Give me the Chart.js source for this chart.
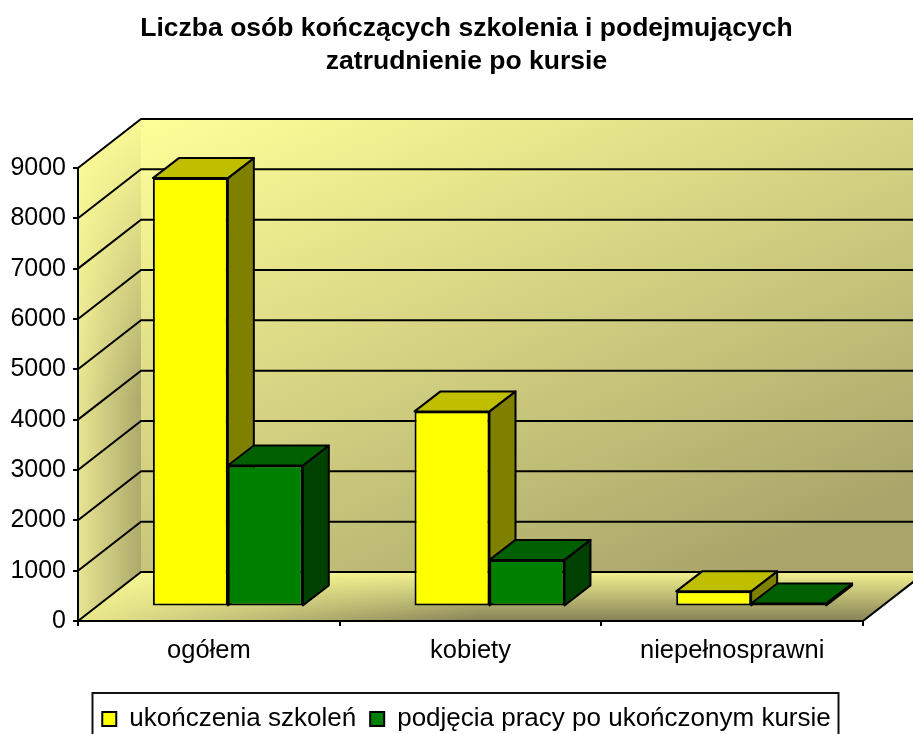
<!DOCTYPE html>
<html>
<head>
<meta charset="utf-8">
<title>Liczba osób</title>
<script src="https://cdn.jsdelivr.net/npm/chart.js@4"></script>
<style>
    html, body { margin: 0; padding: 0; background: #fff; overflow: hidden; }
    canvas { display: block; }
</style>
</head>
<body>
<canvas id="chart" width="913" height="734"></canvas>
<script>
// Values
const categories = ['ogółem', 'kobiety', 'niepełnosprawni'];
const completedTraining = [8490, 3855, 280];
const tookUpWork = [2780, 905, 40];
const titleLines = ['Liczba osób kończących szkolenia i podejmujących', 'zatrudnienie po kursie'];
const seriesNames = ['ukończenia szkoleń', 'podjęcia pracy po ukończonym kursie'];

// 3D look of the old spreadsheet chart
const FONT = '"Liberation Sans", Arial, sans-serif';
const WALL_DX = 63, WALL_DY = 49;     // depth of the walls and floor
const BAR_DX = 26, BAR_DY = 20;       // depth of one bar
const BAR_SHIFT = 19;                 // bars stand a little way in from the front edge
const LINE = 2;
const YELLOW = { top: '#bfbf00', side: '#808000' };
const GREEN = { top: '#006000', side: '#004000' };

function polygon(ctx, points, fill, stroke) {
    ctx.beginPath();
    points.forEach((p, i) => i ? ctx.lineTo(p[0], p[1]) : ctx.moveTo(p[0], p[1]));
    ctx.closePath();
    if (fill) {
        ctx.fillStyle = fill;
        ctx.fill();
    }
    if (stroke) ctx.stroke();
}

const walls3d = {
    id: 'walls3d',
    beforeDraw(chart) {
        const ctx = chart.ctx;
        const area = chart.chartArea;
        const y = chart.scales.y;
        const width = chart.width;
        const l = area.left, r = area.right, b = area.bottom, t = area.top;
        const dx = WALL_DX, dy = WALL_DY;

        ctx.save();
        ctx.strokeStyle = '#000';
        ctx.lineWidth = LINE;

        // back wall
        let grad = ctx.createLinearGradient(l + dx, t - dy, l + dx + 258, t - dy + 603);
        grad.addColorStop(0, '#ffff99');
        grad.addColorStop(1, '#a8a46a');
        ctx.fillStyle = grad;
        ctx.fillRect(l + dx, t - dy, width - l - dx, b - t);

        // left wall: darkens towards the back, paler near the top
        const leftWall = [[l, t], [l + dx, t - dy], [l + dx, b - dy], [l, b]];
        grad = ctx.createLinearGradient(l, 0, l + dx, 0);
        grad.addColorStop(0, '#e8e592');
        grad.addColorStop(1, '#adaa6c');
        polygon(ctx, leftWall, grad);
        grad = ctx.createLinearGradient(0, t - dy + 10, 0, t + 230);
        grad.addColorStop(0, 'rgba(255,255,153,0.9)');
        grad.addColorStop(1, 'rgba(255,255,153,0)');
        polygon(ctx, leftWall, grad);

        // floor: darkens towards the viewer, paler on the left
        const floor = [[l, b], [r, b], [r + dx, b - dy], [l + dx, b - dy]];
        grad = ctx.createLinearGradient(0, b - dy, 0, b);
        grad.addColorStop(0, '#f2f290');
        grad.addColorStop(1, '#878257');
        polygon(ctx, floor, grad);
        grad = ctx.createLinearGradient(l, 0, l + 400, 0);
        grad.addColorStop(0, 'rgba(250,250,150,0.85)');
        grad.addColorStop(1, 'rgba(250,250,150,0)');
        polygon(ctx, floor, grad);

        // grid lines run up the left wall and along the back wall
        y.ticks.forEach(tick => {
            const py = y.getPixelForValue(tick.value);
            ctx.beginPath();
            ctx.moveTo(l, py);
            ctx.lineTo(l + dx, py - dy);
            ctx.lineTo(width, py - dy);
            ctx.stroke();
        });

        // right edge of the floor
        ctx.beginPath();
        ctx.moveTo(r, b);
        ctx.lineTo(r + dx, b - dy);
        ctx.stroke();
        ctx.restore();
    },
    beforeDatasetsDraw(chart) {
        const ctx = chart.ctx;
        const faces = [YELLOW, GREEN];
        ctx.save();
        ctx.translate(BAR_SHIFT, 0);
        ctx.strokeStyle = '#000';
        ctx.lineWidth = LINE;
        ctx.lineJoin = 'round';
        // yellow first so that the green top covers the yellow side
        categories.forEach((_, index) => {
            [0, 1].forEach(ds => {
                const bar = chart.getDatasetMeta(ds).data[index];
                const x0 = bar.x - bar.width / 2, x1 = bar.x + bar.width / 2;
                const top = bar.y, base = bar.base;
                polygon(ctx, [[x1, top], [x1 + BAR_DX, top - BAR_DY], [x1 + BAR_DX, base - BAR_DY], [x1, base]], faces[ds].side, true);
                polygon(ctx, [[x0, top], [x0 + BAR_DX, top - BAR_DY], [x1 + BAR_DX, top - BAR_DY], [x1, top]], faces[ds].top, true);
            });
        });
        ctx.restore();
        // front faces are drawn by the library, moved the same way
        ctx.save();
        ctx.translate(BAR_SHIFT, 0);
    },
    afterDatasetsDraw(chart) {
        chart.ctx.restore();
    },
    afterDraw(chart) {
        // frame of the legend, cut off by the bottom of the picture
        const ctx = chart.ctx;
        ctx.save();
        ctx.strokeStyle = '#111';
        ctx.lineWidth = LINE;
        ctx.strokeRect(92.5, 693, 746, 60);
        ctx.restore();
    }
};

new Chart(document.getElementById('chart'), {
    type: 'bar',
    data: {
        labels: categories,
        datasets: [
            { label: seriesNames[0], data: completedTraining, backgroundColor: '#ffff00', borderColor: '#000', borderWidth: LINE, borderSkipped: false, yAxisID: 'bars', clip: false },
            { label: seriesNames[1], data: tookUpWork, backgroundColor: '#008000', borderColor: '#000', borderWidth: LINE, borderSkipped: false, yAxisID: 'bars', clip: false }
        ]
    },
    plugins: [walls3d],
    options: {
        responsive: false,
        animation: false,
        events: [],
        layout: { padding: { left: 0, right: -20, top: 12, bottom: -8 } },
        datasets: { bar: { barPercentage: 1, categoryPercentage: 0.573 } },
        scales: {
            x: {
                offset: true,
                grid: { offset: true, drawOnChartArea: false, color: '#000', lineWidth: LINE, tickLength: 5 },
                border: { color: '#000', width: 2 },
                ticks: { color: '#000', font: { family: FONT, size: 25.5 }, padding: 10, maxRotation: 0 },
                afterFit(scale) { scale.height = 71; }
            },
            y: {
                min: 0,
                max: 9000,
                grid: { drawOnChartArea: false, color: '#000', lineWidth: LINE, tickLength: 5 },
                border: { color: '#000', width: LINE },
                ticks: { color: '#000', stepSize: 1000, font: { family: FONT, size: 25 }, padding: 7, callback: value => String(value) },
                afterFit(scale) { scale.width = 78; }
            },
            // same height as y, lifted so that a bar's zero sits on the floor and not on the front edge
            bars: {
                position: 'right',
                min: -309,
                max: 8691,
                grid: { display: false },
                border: { display: false },
                ticks: { display: false },
                afterFit(scale) { scale.width = 70; }
            }
        },
        plugins: {
            title: {
                display: true,
                text: titleLines,
                color: '#000',
                font: { family: FONT, size: 26.5, weight: 'bold', lineHeight: 1.245 },
                padding: { top: 0, bottom: 90 }
            },
            legend: {
                position: 'bottom',
                labels: {
                    color: '#000',
                    font: { family: FONT, size: 26 },
                    boxWidth: 14,
                    boxHeight: 14,
                    padding: 14
                }
            },
            tooltip: { enabled: false }
        }
    }
});
</script>
</body>
</html>
